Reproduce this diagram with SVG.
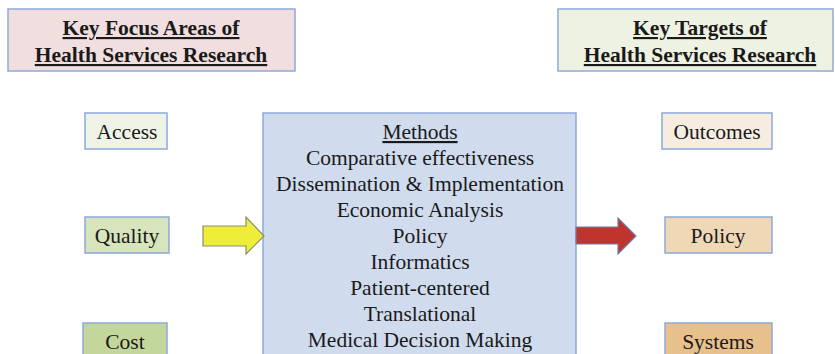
<svg xmlns="http://www.w3.org/2000/svg" width="835" height="354" viewBox="0 0 835 354">
<defs>
<style>
.box{stroke:#8EA9DB;stroke-width:1.5}
</style>
</defs>
<rect width="835" height="354" fill="#ffffff"/>
<g font-family="Liberation Serif, Times New Roman, serif" font-size="21.5" fill="#1a1a1a" text-anchor="middle">
<g id="title-left">
<rect class="box" x="8" y="9" width="287" height="62" fill="#F1DEDE"/>
<text x="151" y="35" font-weight="bold" text-decoration="underline">Key Focus Areas of</text>
<text x="151" y="62" font-weight="bold" text-decoration="underline">Health Services Research</text>
</g>
<g id="title-right">
<rect class="box" x="558" y="9" width="275" height="62" fill="#EEF2E2"/>
<text x="700" y="35" font-weight="bold" text-decoration="underline">Key Targets of</text>
<text x="700" y="62" font-weight="bold" text-decoration="underline">Health Services Research</text>
</g>
<g id="access">
<rect class="box" x="85" y="113" width="82" height="36" fill="#EFF3E6"/>
<text x="127" y="139">Access</text>
</g>
<g id="quality">
<rect class="box" x="85" y="217" width="84" height="36" fill="#D8E4BC"/>
<text x="127" y="243">Quality</text>
</g>
<g id="cost">
<rect class="box" x="83" y="323" width="84" height="40" fill="#C3D69B"/>
<text x="125" y="349">Cost</text>
</g>
<g id="methods">
<rect class="box" x="263" y="113" width="313" height="250" fill="#D0DCEE"/>
<text x="420" y="139" text-decoration="underline">Methods</text>
<text x="420" y="165">Comparative effectiveness</text>
<text x="420" y="191">Dissemination &amp; Implementation</text>
<text x="420" y="217">Economic Analysis</text>
<text x="420" y="243">Policy</text>
<text x="420" y="269">Informatics</text>
<text x="420" y="295">Patient-centered</text>
<text x="420" y="321">Translational</text>
<text x="420" y="347">Medical Decision Making</text>
</g>
<g id="outcomes">
<rect class="box" x="662" y="113" width="110" height="36" fill="#F6EDE0"/>
<text x="717" y="139">Outcomes</text>
</g>
<g id="policy">
<rect class="box" x="665" y="217" width="107" height="36" fill="#F0D8B6"/>
<text x="718" y="243">Policy</text>
</g>
<g id="systems">
<rect class="box" x="665" y="323" width="107" height="40" fill="#E8C08C"/>
<text x="718" y="349">Systems</text>
</g>
</g>
<g id="connectors">
<polygon points="203,226 246,226 246,217 264,236 246,254 246,246 203,246" fill="#EEEE3A" stroke="#8A8F6A" stroke-width="1.2"/>
<polygon points="576,227 618,227 618,218 636,236 618,254 618,244 576,244" fill="#BF352E" stroke="#6E7FA8" stroke-width="1.2"/>
</g>
</svg>
